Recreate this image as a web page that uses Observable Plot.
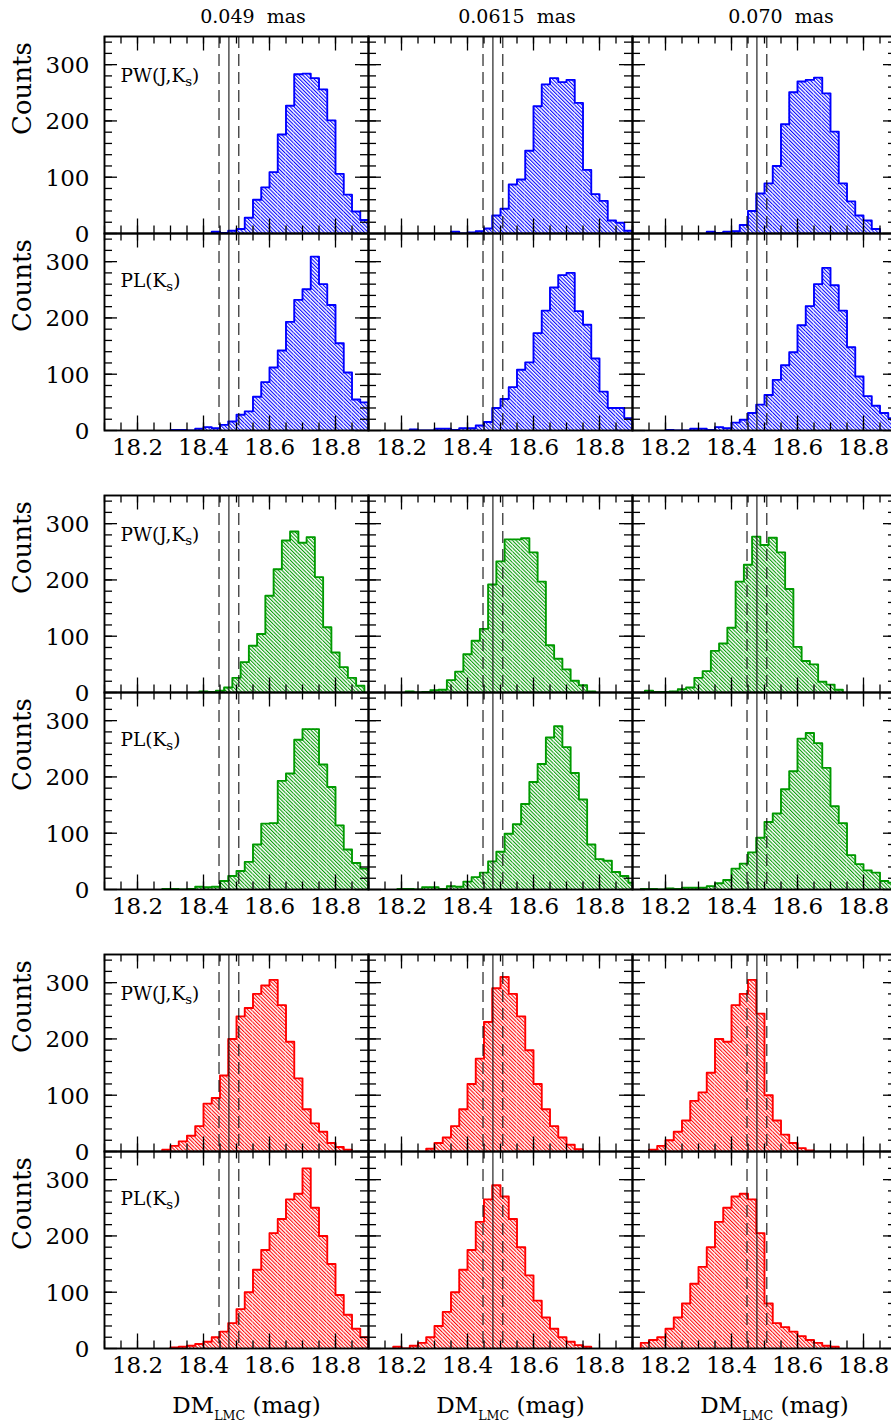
<!DOCTYPE html>
<html><head><meta charset="utf-8">
<script src="https://cdn.jsdelivr.net/npm/d3@7"></script>
<script src="https://cdn.jsdelivr.net/npm/@observablehq/plot@0.6"></script>
<style>
html,body{margin:0;padding:0;background:#fff;overflow:hidden;}
#fig{position:relative;width:891px;height:1425px;overflow:hidden;background:#fff;}
#fig svg{position:absolute;left:0;overflow:visible;max-width:none;background:transparent;}
</style></head><body><div id="fig"></div>
<script>
// ---------------- data ----------------
const binWidth = 0.025;
const columnTitles = ["0.049\u00a0\u00a0mas", "0.0615\u00a0\u00a0mas", "0.070\u00a0\u00a0mas"];
const relationLabels = ["PW(J,K_{s})", "PL(K_{s})"];
const groupColors = ["#0000ff", "#009a00", "#ff0000"];
const xTickLabels = [18.2, 18.4, 18.6, 18.8];
const yTickLabels = [0, 100, 200, 300];
const xLabel = "DM_{LMC} (mag)";
const yLabel = "Counts";
const dmLMC = 18.477;
const dmLMCerr = 0.030;

// left edge of the first bin of every panel: [PW c1, PW c2, PW c3, PL c1, PL c2, PL c3]
const blueFirst  = [18.425, 18.35, 18.325, 18.3, 18.225, 18.2];
const greenFirst = [18.3875, 18.2125, 18.1375, 18.275, 18.1875, 18.125];
const redFirst   = [18.275, 18.275, 18.15, 18.3, 18.175, 18.125];

// counts per bin (bin width 0.025 mag)
const bluePW1 = [3,1,5,8,28,60,82,109,176,227,283,284,276,256,201,106,69,39,24];
const bluePW2 = [3,0,2,4,9,32,44,87,96,147,226,265,276,269,273,232,113,70,58,23,19,5];
const bluePW3 = [3,1,3,4,15,40,71,89,120,194,251,270,273,277,249,181,89,57,32,23,8];
const bluePL1 = [1,1,0,3,6,4,10,16,28,34,60,86,112,142,193,232,251,309,260,223,155,103,55,50];
const bluePL2 = [2,0,0,3,3,1,4,4,9,15,40,56,77,108,121,173,213,254,276,280,212,188,128,69,40,40,22];
const bluePL3 = [1,0,0,3,3,1,6,4,14,19,31,46,63,90,116,139,187,221,260,289,258,213,148,96,61,44,31,22];

const greenPW1 = [2,1,3,9,26,54,83,104,172,219,270,286,266,276,205,116,71,45,26,12];
const greenPW2 = [2,0,1,4,5,22,37,68,92,113,192,233,272,272,274,249,197,84,60,41,21,13,2];
const greenPW3 = [3,1,1,2,6,9,26,38,74,87,115,197,227,277,262,275,249,184,81,56,50,19,14,5];
const greenPL1 = [1,1,0,1,5,4,5,15,24,33,49,80,117,118,193,206,266,285,285,222,182,114,71,47,37];
const greenPL2 = [1,1,0,4,4,1,6,5,14,22,30,50,67,99,116,152,191,223,270,290,253,207,160,80,54,51,31,24,12];
const greenPL3 = [1,1,0,2,1,3,3,3,6,11,17,37,46,66,92,120,135,178,210,268,278,260,216,148,118,61,45,34,30,15,12];

const redPW1 = [3,10,18,28,45,85,95,135,200,240,255,280,295,305,260,195,130,75,50,35,15,8,3];
const redPW2 = [5,15,25,45,75,120,165,230,290,310,280,240,180,120,75,45,25,12,4];
const redPW3 = [3,10,20,35,55,90,105,140,200,195,260,280,305,245,100,55,30,15,6,2];
const redPL1 = [2,3,5,8,12,20,30,45,70,100,140,175,205,230,265,275,320,250,200,150,95,60,35,20];
const redPL2 = [3,0,5,10,20,40,65,100,140,175,225,265,290,270,230,180,130,85,55,35,20,12,6,3];
const redPL3 = [10,15,20,35,55,80,115,145,180,225,250,270,275,265,205,80,45,38,30,22,15,10,5,3];

// ---------------- table ----------------
const groupCounts = [
  [bluePW1, bluePW2, bluePW3, bluePL1, bluePL2, bluePL3],
  [greenPW1, greenPW2, greenPW3, greenPL1, greenPL2, greenPL3],
  [redPW1, redPW2, redPW3, redPL1, redPL2, redPL3]
];
const groupFirst = [blueFirst, greenFirst, redFirst];
const panels = [];
groupCounts.forEach((arr, g) => arr.forEach((counts, i) => {
  panels.push({group: g, row: Math.floor(i / 3), col: i % 3, first: groupFirst[g][i], counts});
}));

// ---------------- layout / style ----------------
const panelW = 264, rowH = 197.5;
const FONT = "DejaVu Serif";
const xMinor = d3.range(0, 17).map(i => +(18.1 + 0.05 * i).toFixed(3));
const yMinor = d3.range(20, 350, 20);
const NS = "http://www.w3.org/2000/svg";

function addHatch(svg, id, color) {
  const defs = document.createElementNS(NS, "defs");
  const pat = document.createElementNS(NS, "pattern");
  pat.setAttribute("id", id);
  pat.setAttribute("patternUnits", "userSpaceOnUse");
  pat.setAttribute("width", "2.6");
  pat.setAttribute("height", "10");
  pat.setAttribute("patternTransform", "rotate(-45)");
  const bg = document.createElementNS(NS, "rect");
  bg.setAttribute("width", "2.6"); bg.setAttribute("height", "10"); bg.setAttribute("fill", "white");
  const ln = document.createElementNS(NS, "line");
  ln.setAttribute("x1", "0.55"); ln.setAttribute("x2", "0.55");
  ln.setAttribute("y1", "0"); ln.setAttribute("y2", "10");
  ln.setAttribute("stroke", color); ln.setAttribute("stroke-width", "1.05");
  pat.appendChild(bg); pat.appendChild(ln); defs.appendChild(pat);
  svg.insertBefore(defs, svg.firstChild);
}

function applySubscripts(svg) {
  svg.querySelectorAll("text").forEach(t => {
    const s = t.textContent;
    if (!s.includes("_{")) return;
    const parts = s.split(/(_\{[^}]*\})/).filter(p => p);
    t.textContent = "";
    let afterSub = false, lastShift = 0;
    parts.forEach(p => {
      const ts = document.createElementNS(NS, "tspan");
      if (p.startsWith("_{")) {
        const txt = p.slice(2, -1);
        const size = txt.length > 1 ? 0.55 : 0.72;
        const shift = txt.length > 1 ? 0.32 : 0.25;
        ts.textContent = txt;
        ts.setAttribute("font-size", (size * 100) + "%");
        ts.setAttribute("dy", (shift / size).toFixed(3) + "em");
        lastShift = shift; afterSub = true;
      } else {
        ts.textContent = p;
        if (afterSub) ts.setAttribute("dy", (-lastShift).toFixed(3) + "em");
        afterSub = false;
      }
      t.appendChild(ts);
    });
  });
}

function groupPlot(g) {
  const T = [35, 0, 0][g];
  const H = [494, 459, 472][g];
  const B = H - T - 2 * rowH;
  const color = groupColors[g];
  const gp = panels.filter(p => p.group === g);
  const bars = gp.flatMap(p => p.counts.map((c, i) => ({
    col: p.col, row: p.row, x1: p.first + i * binWidth, x2: p.first + (i + 1) * binWidth, count: c
  })));
  const outline = gp.flatMap(p => {
    const key = p.row * 3 + p.col, n = p.counts.length;
    const pts = [{key, col: p.col, row: p.row, x: p.first, y: 0}];
    p.counts.forEach((c, i) => pts.push({key, col: p.col, row: p.row, x: p.first + i * binWidth, y: c}));
    pts.push({key, col: p.col, row: p.row, x: p.first + n * binWidth, y: p.counts[n - 1]});
    pts.push({key, col: p.col, row: p.row, x: p.first + n * binWidth, y: 0});
    return pts;
  });
  const hatchId = "hatch-" + g;
  const marks = [
    Plot.rect(bars, {x1: "x1", x2: "x2", y1: 0, y2: "count", fx: "col", fy: "row", fill: `url(#${hatchId})`, clip: true}),
    Plot.line(outline, {x: "x", y: "y", z: "key", fx: "col", fy: "row", curve: "step-after", stroke: color, strokeWidth: 1.9, clip: true}),
    Plot.ruleX([dmLMC], {stroke: "#111", strokeWidth: 1.1}),
    Plot.ruleX([dmLMC - dmLMCerr, dmLMC + dmLMCerr], {stroke: "#111", strokeWidth: 1.1, strokeDasharray: "12,6"}),
    // inward ticks on all four sides
    Plot.tickX(xMinor, {x: d => d, insetTop: rowH - 8, stroke: "black", strokeWidth: 1.3}),
    Plot.tickX(xMinor, {x: d => d, insetBottom: rowH - 8, stroke: "black", strokeWidth: 1.3}),
    Plot.tickX(xTickLabels, {x: d => d, insetTop: rowH - 15, stroke: "black", strokeWidth: 1.3}),
    Plot.tickX(xTickLabels, {x: d => d, insetBottom: rowH - 15, stroke: "black", strokeWidth: 1.3}),
    Plot.tickY(yMinor, {y: d => d, insetRight: panelW - 8, stroke: "black", strokeWidth: 1.3}),
    Plot.tickY(yMinor, {y: d => d, insetLeft: panelW - 8, stroke: "black", strokeWidth: 1.3}),
    Plot.tickY(yTickLabels, {y: d => d, insetRight: panelW - 13, stroke: "black", strokeWidth: 1.3}),
    Plot.tickY(yTickLabels, {y: d => d, insetLeft: panelW - 13, stroke: "black", strokeWidth: 1.3}),
    Plot.frame({stroke: "black", strokeWidth: 1.9}),
    Plot.axisX(xTickLabels, {anchor: "bottom", tickSize: 0, tickPadding: 8, fontSize: 23, fontFamily: FONT, fill: "black", label: null, tickFormat: d => d.toFixed(1)}),
    Plot.axisY(yTickLabels, {anchor: "left", tickSize: 0, tickPadding: 15, fontSize: 23, fontFamily: FONT, fill: "black", label: null, tickFormat: d => String(d), dy: 1}),
    Plot.text([{col: 0, row: 0}, {col: 0, row: 1}], {fx: "col", fy: "row", text: () => yLabel, frameAnchor: "left", dx: -82, rotate: -90, fontSize: 26, fontFamily: FONT, fill: "black"}),
    Plot.text([{col: 0, row: 0, t: relationLabels[0]}], {fx: "col", fy: "row", text: "t", frameAnchor: "top-left", dx: 16, dy: 45, lineAnchor: "bottom", textAnchor: "start", fontSize: 18.5, fontFamily: FONT, fill: "black"}),
    Plot.text([{col: 0, row: 1, t: relationLabels[1]}], {fx: "col", fy: "row", text: "t", frameAnchor: "top-left", dx: 16, dy: 53, lineAnchor: "bottom", textAnchor: "start", fontSize: 18.5, fontFamily: FONT, fill: "black"})
  ];
  if (g === 0) {
    marks.push(Plot.text(columnTitles.map((t, i) => ({col: i, row: 0, t})), {fx: "col", fy: "row", text: "t", x: 18.55, frameAnchor: "top", dy: -20, lineAnchor: "middle", fontSize: 19, fontFamily: FONT, fill: "black"}));
  }
  if (g === 2) {
    marks.push(Plot.text([0, 1, 2].map(i => ({col: i, row: 1})), {fx: "col", fy: "row", text: () => xLabel, x: 18.53, frameAnchor: "bottom", dy: 64, lineAnchor: "bottom", fontSize: 23, fontFamily: FONT, fill: "black"}));
  }
  const svg = Plot.plot({
    width: 3 * panelW + 104, height: H,
    marginLeft: 104, marginRight: 0, marginTop: T, marginBottom: B,
    style: {background: "transparent", overflow: "visible", maxWidth: "none"},
    x: {domain: [18.1, 18.9]},
    y: {domain: [0, 350]},
    fx: {domain: [0, 1, 2], padding: 0, axis: null},
    fy: {domain: [0, 1], padding: 0, axis: null},
    marks
  });
  addHatch(svg, hatchId, color);
  applySubscripts(svg);
  svg.style.top = [0, 494, 953][g] + "px";
  return svg;
}

const fig = document.getElementById("fig");
[0, 1, 2].forEach(g => fig.appendChild(groupPlot(g)));
</script></body></html>
